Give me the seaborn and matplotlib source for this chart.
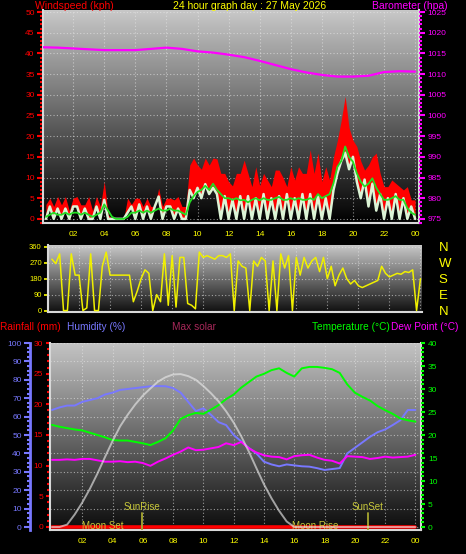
import numpy as np
import matplotlib
matplotlib.use('Agg')
import matplotlib.pyplot as plt
from matplotlib.colors import LinearSegmentedColormap
from matplotlib.ticker import MultipleLocator
import seaborn as sns

# ---------------- data ----------------
# wind readings every 15 minutes (value at end of each interval)
wind_hours = np.arange(0.25, 24.25, 0.25)
gust = [3.5, 5, 3, 5.4, 3.4, 5.4, 2, 5, 5.4, 3.4, 3.4, 5.4, 2, 5.4, 3, 9,
        1, 0, 0, 0, 0, 5, 3.5, 5, 5, 3, 5, 3, 3, 7.4, 3, 5,
        5, 4.6, 5.4, 3, 3, 13, 14.7, 13, 12, 14.7, 13, 14.7, 14.5, 11, 11, 9,
        8, 11, 11, 14.2, 11, 7.8, 12.6, 8, 11, 9.4, 7.8, 11.8, 11.8, 10, 7.8, 12.6,
        9.4, 12.6, 11, 11, 16.7, 11, 15.9, 9, 12.6, 9.4, 15, 19, 23.9, 29.6, 22, 19,
        17.5, 14, 11.8, 13, 15, 15.9, 11, 7.8, 7.8, 9.4, 8.6, 7.8, 7, 7.8, 4.6, 4.6]
speed = [0, 3, 0, 2.5, 0, 2.5, 0, 3, 3, 0, 2.5, 0, 0, 3, 0, 4.6,
         0, 0, 0, 0, 0, 1.5, 3, 0, 3.5, 0, 3, 0, 3, 5.4, 0, 3,
         3, 0, 2.5, 0, 0, 7, 5, 7.5, 5, 8.4, 6, 7.5, 6, 0, 5.5, 0,
         4.6, 0, 5.5, 0, 5.5, 0, 5, 0, 6, 0, 5, 0, 5.5, 0, 6, 0,
         5, 0, 6, 0, 6, 0, 5.5, 0, 5, 0, 7, 11, 14, 16, 12, 15,
         9, 5, 9.5, 3, 8.5, 2, 6, 0, 5, 0, 6, 0, 5, 0, 3, 0]
avg_speed = [0.5, 1, 1.5, 1, 1, 1.5, 1, 1.5, 1.5, 1, 1.5, 1, 0.5, 1, 1.5, 3.5,
             2, 0.5, 0, 0, 0, 0.5, 1.5, 1.5, 2, 1.5, 2, 1.5, 2, 2.5, 2, 2,
             2.5, 2, 2, 1.5, 1, 4, 5.5, 6.5, 7, 8, 7, 8.5, 7, 6, 5, 5,
             4.6, 5, 4.5, 4.6, 4, 4.6, 5, 4.5, 5, 4.6, 4.6, 5, 5.3, 4.6, 4.6, 5,
             4.6, 5, 4.6, 4.6, 5, 4.6, 6, 5, 5.5, 6, 8.6, 12.6, 14, 17.5, 15, 13.8,
             11, 9, 7.8, 8.5, 9.8, 7.5, 6, 4.6, 4.6, 5, 5.5, 4.6, 4.6, 2.6, 1.5, 1]
wind_dir = [290, 265, 320, 0, 0, 320, 200, 200, 0, 15, 320, 0, 0, 250, 330, 200,
            200, 200, 200, 200, 200, 50, 110, 180, 230, 210, 0, 90, 50, 320, 30, 310,
            20, 300, 300, 40, 30, 10, 330, 300, 310, 300, 290, 310, 310, 300, 320, 0,
            280, 250, 240, 0, 280, 250, 300, 280, 0, 280, 0, 320, 240, 310, 0, 300,
            200, 300, 240, 280, 300, 220, 300, 180, 250, 140, 200, 240, 180, 150, 170, 140,
            130, 140, 150, 160, 170, 250, 210, 190, 200, 210, 205, 220, 215, 230, 0, 180]

baro_hours = list(range(25))
baro = [1016.5, 1016.4, 1016.2, 1016.0, 1015.8, 1015.8, 1015.8, 1016.1, 1016.4,
        1016.1, 1015.5, 1015.2, 1014.7, 1014.1, 1013.2, 1012.2, 1011.2, 1010.4,
        1009.8, 1009.4, 1009.4, 1009.6, 1010.5, 1010.7, 1010.6]

# half-hourly readings
day_hours = np.arange(0, 24.5, 0.5)
humidity = [63.6, 65, 66, 66, 68, 69, 70, 72, 73, 74.5, 75, 75.5, 76, 76.5, 76.6, 76.5,
            75.5, 73, 68, 63, 64.5, 61, 57, 55.4, 50, 46.5, 43, 40, 35.5, 34, 33, 34,
            33.5, 33, 32.8, 32, 31, 31.5, 32, 40, 43, 46, 49, 51.5, 53, 55.4, 58, 63.6, 63.6]
temperature = [22.2, 21.8, 21.5, 21.2, 21, 20.5, 20, 19.5, 18.9, 18.8, 18.8, 18.5, 18.2,
               17.8, 18.5, 19.3, 21, 23.5, 24.3, 24.8, 24.6, 25.5, 26.5, 27.8, 28.8, 30.3,
               31.5, 32.7, 33.3, 34.1, 34.5, 33.5, 32.7, 34.5, 34.8, 34.8, 34.6, 34.3, 33.5,
               31, 29.2, 28.3, 27.5, 26.3, 25.4, 24.6, 23.6, 23.2, 22.9]
dew_point = [14.6, 14.6, 14.7, 14.6, 14.8, 14.8, 14.5, 14.2, 14.2, 14.3, 14.1, 14.2, 13.9,
             13.3, 14.2, 14.9, 15.7, 16.4, 17.3, 16.7, 16.8, 17.1, 17.4, 18.2, 17.8, 18.5,
             17.1, 16.2, 15.6, 15.3, 15.2, 14.7, 15.4, 15.6, 15.7, 15.1, 14.6, 14.4, 13.8,
             15.4, 15.3, 15.2, 14.8, 15, 15.3, 15.1, 15.2, 15.3, 15.7]
max_solar = [0, 0, 13, 68, 133, 207, 290, 380, 467, 547, 610, 666, 714, 753, 790, 814,
             829, 831, 820, 800, 766, 727, 683, 629, 567, 493, 410, 320, 232, 156, 88, 30,
             0, 0, 0, 0, 0, 0, 0, 0, 0, 0, 0, 0, 0, 0, 0, 0, 0]
rainfall = [0.0] * 49

hour_ticks = [2, 4, 6, 8, 10, 12, 14, 16, 18, 20, 22, 24]
hour_labels = ['02', '04', '06', '08', '10', '12', '14', '16', '18', '20', '22', '00']
dir_ticks = [0, 90, 180, 270, 360]
dir_labels = ['N', 'E', 'S', 'W', 'N']

sunrise, sunset = 5.94, 20.87
moonset, moonrise = 3.37, 17.37

# ---------------- style ----------------
sns.set_style('dark')
plt.rcParams['font.family'] = ['Liberation Sans', 'DejaVu Sans']
plt.rcParams['axes.axisbelow'] = True

W, H = 466, 554
fig = plt.figure(figsize=(W / 100, H / 100), dpi=100, facecolor='black')

YEL = '#ffff00'
RED = '#ff0000'
MAG = '#ff00ff'
GRN = '#00ff00'
BLU = '#7878ff'
LGR = '#d8d8d8'
TICK = 6


def px_axes(x0, y0, x1, y1):
    return fig.add_axes([x0 / W, 1 - y1 / H, (x1 - x0) / W, (y1 - y0) / H])


def gradient(ax, top, bottom):
    cmap = LinearSegmentedColormap.from_list('bg', [bottom, top])
    ax.imshow(np.linspace(1, 0, 256)[:, None], cmap=cmap, aspect='auto',
              extent=[0, 1, 0, 1], transform=ax.transAxes, zorder=0)


def dotted_grid(ax):
    ax.grid(True, color='#e8e8e8', linestyle=(0, (1, 2)), linewidth=0.8, alpha=0.6)


def frame(ax, left=True, bottom=True, right=False, top=False):
    for name, show in [('left', left), ('bottom', bottom), ('right', right), ('top', top)]:
        ax.spines[name].set_visible(show)
        ax.spines[name].set_color(LGR)
        ax.spines[name].set_linewidth(1.5)


# ---------------- top panel: wind + barometer ----------------
ax1 = px_axes(43, 10, 419, 223)
ax1.set_facecolor('black')
gradient(ax1, '#c8c8c8', '#000000')
ax1.fill_between(wind_hours, speed, gust, color=RED, linewidth=0, zorder=2)
sns.lineplot(x=wind_hours, y=speed, ax=ax1, color='#dcf4d6', linewidth=1.8, zorder=4)
sns.lineplot(x=wind_hours, y=avg_speed, ax=ax1, color='#22dd22', linewidth=1.3, zorder=5)
ax1.set_xlim(0.06, 24.25)
ax1.set_ylim(-1, 50.5)
ax1.set_xticks(hour_ticks, hour_labels)
ax1.set_yticks(range(0, 51, 5))
ax1.yaxis.set_minor_locator(MultipleLocator(1))
ax1.tick_params(axis='x', length=0, pad=6, labelsize=TICK, labelcolor=YEL)
ax1.tick_params(axis='y', which='both', direction='out', colors=RED, labelsize=TICK,
                width=1.5, pad=2)
ax1.tick_params(axis='y', which='major', length=4)
ax1.tick_params(axis='y', which='minor', length=2.5)
dotted_grid(ax1)
frame(ax1, right=True)
ax1.set_xlabel('')
ax1.set_ylabel('')

ax1b = ax1.twinx()
sns.lineplot(x=baro_hours, y=baro, ax=ax1b, color=MAG, linewidth=1.6)
ax1b.set_ylim(974, 1025.5)
ax1b.set_yticks(range(975, 1026, 5))
ax1b.yaxis.set_minor_locator(MultipleLocator(1))
ax1b.tick_params(axis='y', which='both', direction='out', colors=MAG, labelsize=TICK,
                 width=1.5, pad=2)
ax1b.tick_params(axis='y', which='major', length=4)
ax1b.tick_params(axis='y', which='minor', length=2.5)
ax1b.set_ylabel('')
for s in ax1b.spines.values():
    s.set_visible(False)

# ---------------- middle panel: wind direction ----------------
ax2 = px_axes(48, 245, 422, 312)
ax2.set_facecolor('black')
gradient(ax2, '#c8c8c8', '#101010')
sns.lineplot(x=wind_hours, y=wind_dir, ax=ax2, color='#f0f000', linewidth=1.1, zorder=3)
ax2.set_xlim(0, 24.1)
ax2.set_ylim(-8, 370)
ax2.set_xticks(hour_ticks)
ax2.set_xticklabels([])
ax2.set_yticks(dir_ticks)
ax2.tick_params(axis='x', length=0)
ax2.tick_params(axis='y', direction='out', colors=YEL, labelsize=5.5, length=3,
                width=1.2, pad=1.5)
dotted_grid(ax2)
frame(ax2)
ax2.set_xlabel('')
ax2.set_ylabel('')

ax2r = ax2.twinx()
ax2r.set_ylim(-8, 370)
ax2r.set_yticks(dir_ticks, dir_labels)
ax2r.tick_params(axis='y', length=0, pad=12, labelsize=9.5, labelcolor=YEL)
for s in ax2r.spines.values():
    s.set_visible(False)

# ---------------- bottom panel: temp / humidity / rain / solar ----------------
ax3 = px_axes(50, 343, 421, 530)          # humidity scale (outer left)
ax3.set_facecolor('black')
gradient(ax3, '#c4c4c4', '#0c0c0c')
sns.lineplot(x=day_hours, y=humidity, ax=ax3, color=BLU, linewidth=1.4, zorder=3)
ax3.set_xlim(-0.13, 24.37)
ax3.set_ylim(-1.63, 100)
ax3.set_xticks(hour_ticks, hour_labels)
ax3.set_yticks(range(0, 101, 10))
ax3.yaxis.set_minor_locator(MultipleLocator(2.5))
ax3.tick_params(axis='x', length=0, pad=6, labelsize=TICK, labelcolor=YEL)
ax3.tick_params(axis='y', which='both', direction='out', colors=BLU, labelsize=TICK,
                width=1.5, pad=2)
ax3.tick_params(axis='y', which='major', length=4)
ax3.tick_params(axis='y', which='minor', length=2.5)
dotted_grid(ax3)
for name in ['top', 'right', 'bottom']:
    ax3.spines[name].set_visible(False)
ax3.spines['left'].set_position(('outward', 14.4))
ax3.spines['left'].set_color(BLU)
ax3.spines['left'].set_linewidth(2)
ax3.set_xlabel('')
ax3.set_ylabel('')

ax3r = ax3.twinx()                       # rainfall scale (inner left)
sns.lineplot(x=day_hours, y=rainfall, ax=ax3r, color=RED, linewidth=2.6)
ax3r.yaxis.set_ticks_position('left')
ax3r.set_ylim(-0.49, 30)
ax3r.set_yticks(range(0, 31, 5))
ax3r.yaxis.set_minor_locator(MultipleLocator(1))
ax3r.tick_params(axis='y', which='both', direction='out', colors=RED, labelsize=TICK,
                 width=1.5, pad=2)
ax3r.tick_params(axis='y', which='major', length=3)
ax3r.tick_params(axis='y', which='minor', length=2)
frame(ax3r, right=True)
ax3r.set_ylabel('')

ax3t = ax3.twinx()                       # temperature scale (right)
sns.lineplot(x=day_hours, y=temperature, ax=ax3t, color=GRN, linewidth=1.4)
sns.lineplot(x=day_hours, y=dew_point, ax=ax3t, color=MAG, linewidth=1.4)
ax3t.set_ylim(-0.65, 40)
ax3t.set_yticks(range(0, 41, 5))
ax3t.yaxis.set_minor_locator(MultipleLocator(1))
ax3t.tick_params(axis='y', which='both', direction='out', colors=GRN, labelsize=TICK,
                 width=1.5, pad=2)
ax3t.tick_params(axis='y', which='major', length=3)
ax3t.tick_params(axis='y', which='minor', length=2)
for s in ax3t.spines.values():
    s.set_visible(False)
ax3t.set_ylabel('')

ev_col = '#c8c83a'
ax3t.text(sunrise, 4.35, 'SunRise', color=ev_col, fontsize=7, ha='center', va='center')
ax3t.text(sunset, 4.35, 'SunSet', color=ev_col, fontsize=7, ha='center', va='center')
ax3t.text(moonset, 0.3, 'Moon Set', color=ev_col, fontsize=7, ha='center', va='center', zorder=6)
ax3t.text(moonrise, 0.3, 'Moon Rise', color=ev_col, fontsize=7, ha='center', va='center', zorder=6)
for t in (sunrise, sunset):
    ax3t.axvline(t, ymin=0, ymax=0.09, color='#a8a830', linewidth=1.3)

ax3s = ax3.twinx()                       # max solar (no visible scale)
sns.lineplot(x=day_hours, y=max_solar, ax=ax3s, color='#e6e6e6', alpha=0.65, linewidth=1.4)
ax3s.set_ylim(-16.25, 1000)
ax3s.axis('off')

# ---------------- captions ----------------
def caption(x, y, s, color, size=7.3):
    fig.text(x / W, 1 - y / H, s, color=color, fontsize=size, ha='left', va='center')


caption(35, 6, 'Windspeed (kph)', RED, 7.5)
caption(173, 6, '24 hour graph day : 27 May 2026', YEL, 7.5)
caption(372, 6, 'Barometer (hpa)', MAG, 7.5)
caption(0, 327, 'Rainfall (mm)', RED)
caption(67, 327, 'Humidity (%)', BLU)
caption(172, 327, 'Max solar', '#a8285a')
caption(312, 327, 'Temperature (°C)', GRN)
caption(391, 327, 'Dew Point (°C)', MAG)

fig.savefig('out.png', dpi=100, facecolor='black')
